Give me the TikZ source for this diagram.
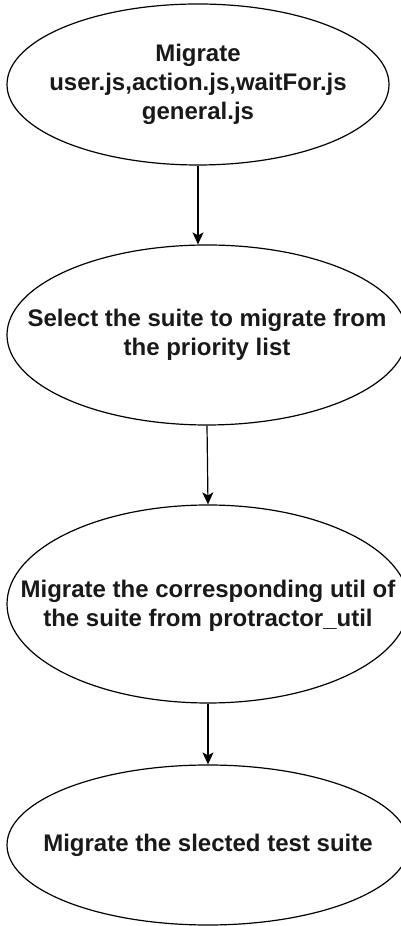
\documentclass[tikz,border=0pt]{standalone}
\usepackage{fontspec}
\setmainfont{Liberation Sans}
\usetikzlibrary{shapes.geometric,arrows.meta}
\begin{document}
\begin{tikzpicture}[x=1pt,y=1pt,
  stepell/.style={ellipse, draw, line width=1.2pt, inner sep=0pt},
  steptext/.style={align=center, inner sep=0pt,
    font=\fontsize{24}{29}\selectfont\bfseries, text=black!90},
  flow/.style={line width=1.2pt, -{Stealth[length=12pt,width=11pt,inset=3pt]}}]
\useasboundingbox (0,0) rectangle (401,926);
\node[stepell, minimum width=382pt, minimum height=161pt] (e1) at (198,841.5) {};
\node[steptext] (t1) at (e1.center) {Migrate\\user.js,action.js,waitFor.js\\general.js};
\node[stepell, minimum width=400pt, minimum height=180pt] (e2) at (207,591) {};
\node[steptext] (t2) at (e2.center) {Select the suite to migrate from\\the priority list};
\node[stepell, minimum width=402pt, minimum height=198pt] (e3) at (208,322) {};
\node[steptext] (t3) at ([yshift=-2pt]e3.center) {Migrate the corresponding util of\\the suite from protractor\_util};
\node[stepell, minimum width=402pt, minimum height=160pt] (e4) at (208,81) {};
\node[steptext] (t4) at (e4.center) {Migrate the slected test suite};
\draw[flow] (e1.south) -- (e1.south |- e2.north);
\draw[flow] (e2.south) -- (e3.north);
\draw[flow] (e3.south) -- (e4.north);
\end{tikzpicture}
\end{document}
